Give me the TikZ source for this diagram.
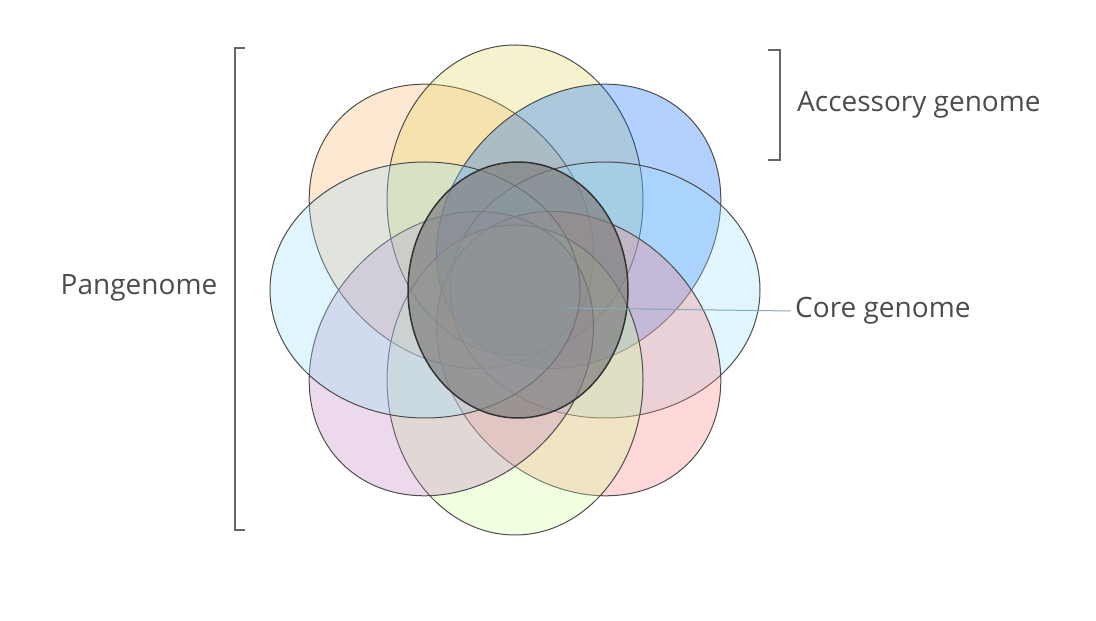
\documentclass[tikz,border=0pt]{standalone}
\usepackage{fontspec}
\setmainfont{Open Sans}
\begin{document}
\begin{tikzpicture}[x=1pt,y=1pt,
  petal/.style={draw=black!70,line width=1pt,fill opacity=0.3},
  lab/.style={font=\fontsize{28}{32}\selectfont,text=black!70,inner sep=0pt}]
\useasboundingbox (0,0) rectangle (1096,621);
\def\cx{515}\def\cy{331}
\foreach \ang/\col in {135/orange!60,90/olive!50!yellow!60,45/blue!60!cyan,0/cyan!40,-45/red!50,-90/green!50!yellow!40,-135/violet!50,180/cyan!40}{
  \path[petal,fill=\col] ({\cx+90*cos(\ang)},{\cy+90*sin(\ang)}) ellipse [x radius=155,y radius=128,rotate=\ang];
}
\path[draw=black!80,line width=1.5pt,fill=black!50,fill opacity=0.7] (518,331) ellipse [x radius=110,y radius=128];
\coordinate (cs) at (565,313);
\node[lab,anchor=west] (coreLab) at (795,310) {Core genome};
\draw[cyan!50!black!60,line width=1pt] (cs) -- ([xshift=-4pt]coreLab.west);
\coordinate (pt) at (245,573);\coordinate (pb) at (245,91);
\draw[black!60,line width=1.2pt] (pt) -- ++(-10,0) |- (pb);
\node[lab] (pan) at (139,333) {Pangenome};
\coordinate (at) at (768,571);\coordinate (ab) at (768,461);
\draw[black!60,line width=1.2pt] (at) -- ++(12,0) |- (ab);
\node[lab,anchor=west] (acc) at (797,516) {Accessory genome};
\end{tikzpicture}
\end{document}
